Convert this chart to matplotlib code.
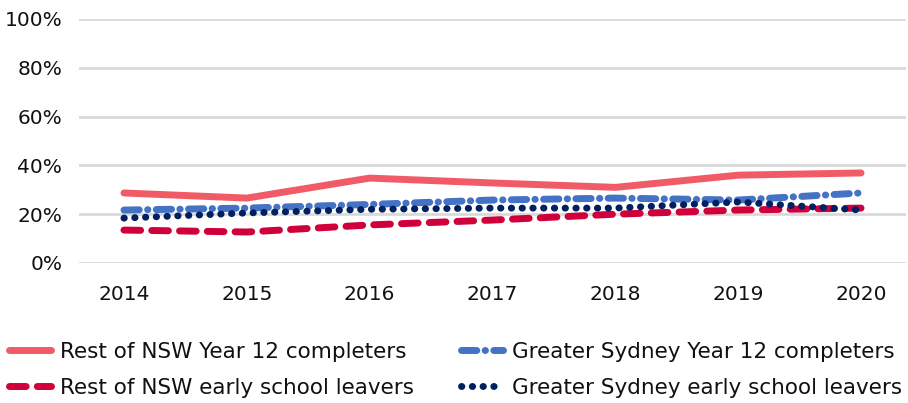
import matplotlib.pyplot as plt
from matplotlib.ticker import PercentFormatter

years = ['2014', '2015', '2016', '2017', '2018', '2019', '2020']
rest_y12 = [28.7, 26.6, 34.8, 32.8, 31.0, 36.0, 36.9]
sydney_y12 = [21.7, 22.5, 24.0, 25.8, 26.6, 25.8, 28.7]
rest_early = [13.5, 12.7, 15.6, 17.6, 20.0, 21.7, 22.5]
sydney_early = [18.4, 20.5, 22.0, 22.5, 22.5, 25.0, 21.7]

plt.rcParams['font.family'] = ['DejaVu Sans']

fig = plt.figure(figsize=(9.08, 4.03), dpi=100)
ax = fig.add_axes([79 / 908, 1 - 263 / 403, 827 / 908, 244 / 403])

x = range(len(years))
ax.plot(x, rest_y12, color='#f15b67', lw=5, solid_capstyle='round',
        label='Rest of NSW Year 12 completers')
ax.plot(x, sydney_y12, color='#4472c4', lw=5, linestyle=(0, (2.2, 1.2, 0.05, 1.2)),
        dash_capstyle='round', label='Greater Sydney Year 12 completers')
ax.plot(x, rest_early, color='#d0003a', lw=5, linestyle=(0, (2.4, 1.6)),
        dash_capstyle='round', label='Rest of NSW early school leavers')
ax.plot(x, sydney_early, color='#002060', lw=5, linestyle=(0, (0.05, 1.5)),
        dash_capstyle='round', label='Greater Sydney early school leavers')

ax.set_ylim(0, 100)
ax.set_xlim(-0.366, 6.366)
ax.set_yticks(range(0, 101, 20))
ax.yaxis.set_major_formatter(PercentFormatter(decimals=0))
ax.set_xticks(list(x))
ax.set_xticklabels(years)
ax.grid(axis='y', color='#d9d9d9', lw=2)
ax.set_axisbelow(True)
for s in ax.spines.values():
    s.set_visible(False)
ax.tick_params(length=0, labelsize=14.5, colors='#111111', pad=12)
ax.tick_params(axis='x', pad=16)

handles, labels = ax.get_legend_handles_labels()
order = [0, 2, 1, 3]
fig.legend([handles[i] for i in order], [labels[i] for i in order],
           loc='upper left', bbox_to_anchor=(9 / 908, 1 - 342 / 403), ncol=2,
           frameon=False, fontsize=15.5, handlelength=1.95, handletextpad=0.4,
           columnspacing=2.2, labelspacing=0.74, borderpad=0, borderaxespad=0,
           labelcolor='#111111')

fig.savefig('out.png', dpi=100)
